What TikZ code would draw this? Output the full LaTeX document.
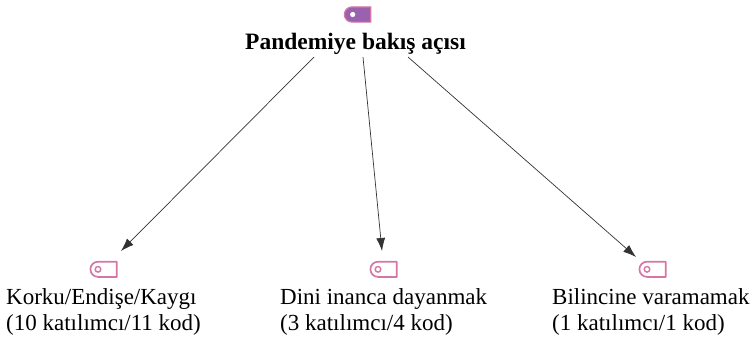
\documentclass[tikz,border=0pt]{standalone}
\usepackage{fontspec}
\setmainfont{Liberation Serif}
\usetikzlibrary{arrows.meta}
\definecolor{tagline}{HTML}{D576A6}
\definecolor{tagfill}{HTML}{9A62AE}
\definecolor{arrowc}{HTML}{333333}
\tikzset{
  lbl/.style={font=\fontsize{23}{26}\selectfont, align=left, anchor=north west, inner sep=0pt, text=black},
  ttl/.style={font=\fontsize{23.5}{26}\selectfont\bfseries, inner sep=0pt, text=black},
  conn/.style={draw=arrowc, line width=0.7pt, -{Latex[length=13pt,width=9pt]}},
  tagout/.style={draw=tagline, line width=1.7pt, fill=white, line join=round},
  tagsolid/.style={draw=tagline, line width=1.2pt, fill=tagfill, line join=round}
}
\newcommand{\tagicon}[4]{% name, x, y, style
  \begin{scope}[shift={(#2,#3)}]
    \path[#4] (-6,-7.6) -- (12.8,-7.6) -- (12.8,7.6) -- (-6,7.6) arc[start angle=90, end angle=270, radius=7.6] -- cycle;
  \end{scope}
  \coordinate (#1) at (#2,#3);
}
\begin{document}
\begin{tikzpicture}[x=1pt,y=-1pt]
\useasboundingbox (0,0) rectangle (751,341);
\tagicon{tagtop}{358}{14.5}{tagsolid}
\fill[white] (352.7,14.5) circle (2.6);
\node[ttl] (title) at (355.5,44) {Pandemiye bakış açısı};
\tagicon{tagA}{104}{269.3}{tagout}
\draw[tagline, line width=1.4pt] (98,269.3) circle (2.8);
\tagicon{tagB}{384}{269.3}{tagout}
\draw[tagline, line width=1.4pt] (378,269.3) circle (2.8);
\tagicon{tagC}{653}{269.3}{tagout}
\draw[tagline, line width=1.4pt] (647,269.3) circle (2.8);
\node[lbl] (la) at (6,288) {Korku/Endişe/Kaygı\\(10 katılımcı/11 kod)};
\node[lbl] (lb) at (280,288) {Dini inanca dayanmak\\(3 katılımcı/4 kod)};
\node[lbl] (lc) at (552,288) {Bilincine varamamak\\(1 katılımcı/1 kod)};
\coordinate (sa) at (314,57);
\coordinate (sb) at (363,57);
\coordinate (sc) at (408,57);
\coordinate (ea) at (121,251);
\coordinate (eb) at (382,251);
\coordinate (ec) at (636,257);
\draw[conn] (sa) -- (ea);
\draw[conn] (sb) -- (eb);
\draw[conn] (sc) -- (ec);
\end{tikzpicture}
\end{document}
